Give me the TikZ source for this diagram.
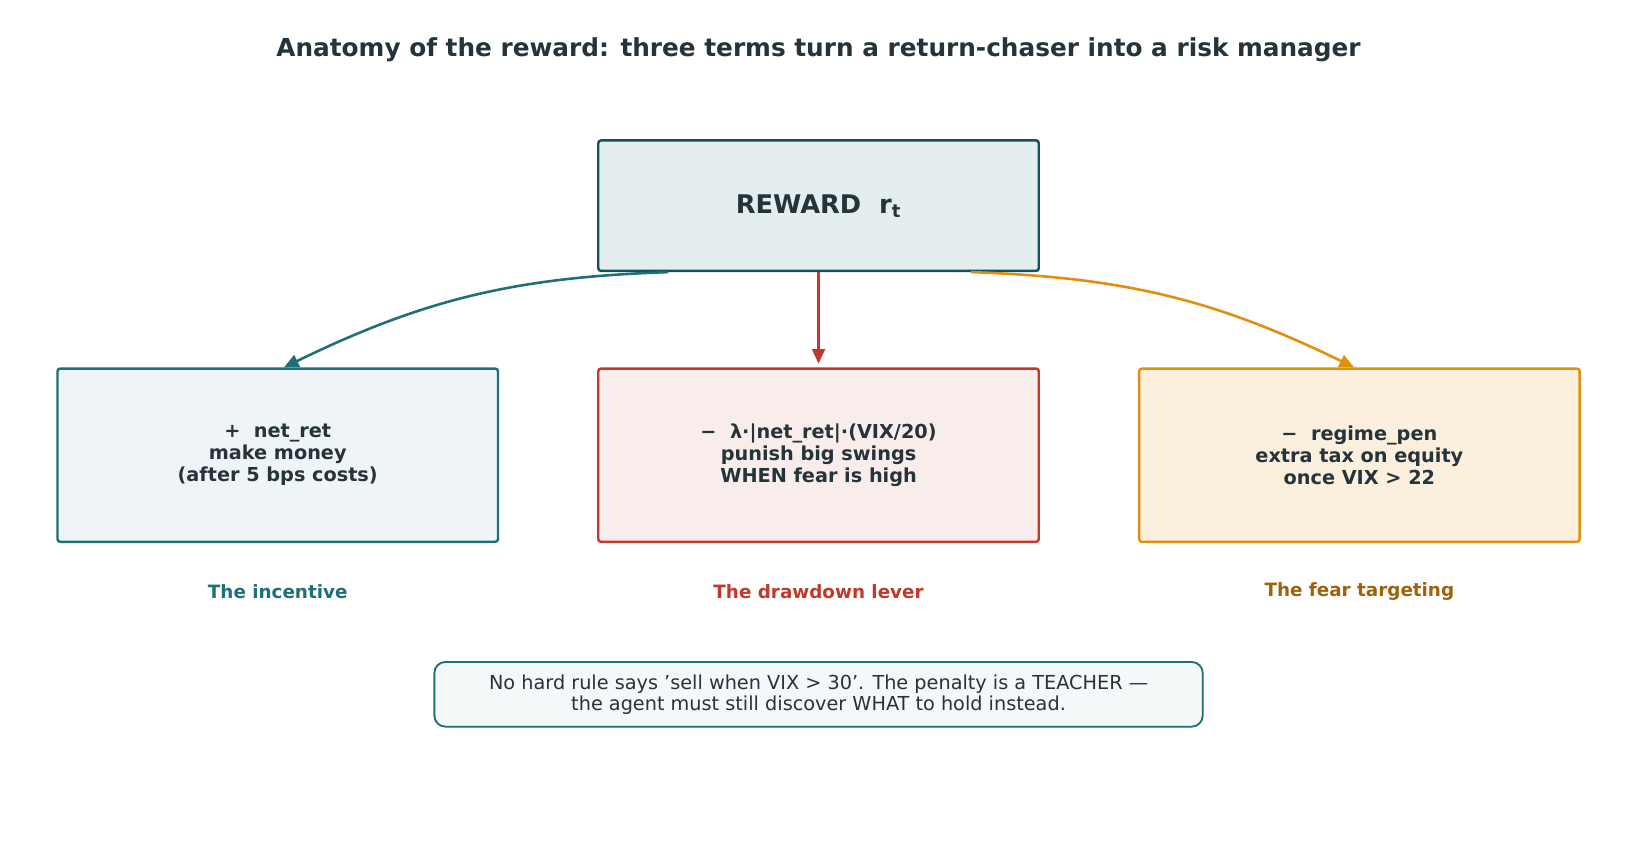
\documentclass[tikz,border=0pt]{standalone}
\usepackage{fontspec}
\setmainfont{DejaVu Sans}
\usetikzlibrary{arrows.meta, positioning}
\definecolor{ink}{HTML}{25333A}
\definecolor{teal}{HTML}{1F6F78}
\definecolor{tealdk}{HTML}{17505A}
\definecolor{crimson}{HTML}{C0392B}
\definecolor{amber}{HTML}{E08E0B}
\definecolor{amberdk}{HTML}{A0610A}
\tikzset{
  term/.style = {rectangle, rounded corners=1.5pt, line width=1.3pt, minimum width=8.44cm, minimum height=3.32cm, align=center, font=\bfseries\fontsize{10.5}{12}\selectfont, text=ink},
  tag/.style = {font=\bfseries\fontsize{10}{12}\selectfont},
  arrow/.style = {line width=1.4pt, -{Triangle[length=8pt,width=7pt]}}
}
\begin{document}
\begin{tikzpicture}[x=0.02cm, y=-0.02cm]
  \useasboundingbox (0,0) rectangle (1566,818);
  % title
    \node (title) [font=\bfseries\fontsize{13.5}{16}\selectfont, text=ink] at (784,48) {Anatomy of the reward: three terms turn a return-chaser into a risk manager};
  % nodes
    \node (reward) [term, draw=tealdk, fill=teal!12, minimum height=2.5cm, font=\bfseries\fontsize{14}{16}\selectfont] at (784,197) {REWARD\ \ r\textsubscript{t}};
    \node (incentive) [term, draw=teal, fill=teal!7] at (266,436) {+\ \ net\_ret\\make money\\(after 5 bps costs)};
    \node (lever) [term, draw=crimson, fill=crimson!9] at (784,436) {−\ \ λ·|net\_ret|·(VIX/20)\\punish big swings\\WHEN fear is high};
    \node (fear) [term, draw=amber, fill=amber!14] at (1302,436) {−\ \ regime\_pen\\extra tax on equity\\once VIX > 22};
    \node (incentivetag) [tag, text=teal] at (266,567) {The incentive};
    \node (levertag) [tag, text=crimson] at (784,567) {The drawdown lever};
    \node (feartag) [tag, text=amberdk] at (1302,567) {The fear targeting};
    \node (note) [draw=teal, fill=teal!5, line width=1pt, rounded corners=6pt, align=center, minimum width=14.72cm, minimum height=1.24cm, text=ink, font=\fontsize{10.5}{11.5}\selectfont] at (784,665) {No hard rule says 'sell when VIX > 30'. The penalty is a TEACHER —\\the agent must still discover WHAT to hold instead.};
  % arrows
    \draw [arrow, teal] ([xshift=-2.88cm]reward.south) to[bend right=12] ([xshift=0.12cm]incentive.north);
    \draw [arrow, crimson] (reward.south) -- ([yshift=2pt]lever.north);
    \draw [arrow, amber] ([xshift=2.92cm]reward.south) to[bend left=12] ([xshift=-0.1cm]fear.north);
\end{tikzpicture}
\end{document}
